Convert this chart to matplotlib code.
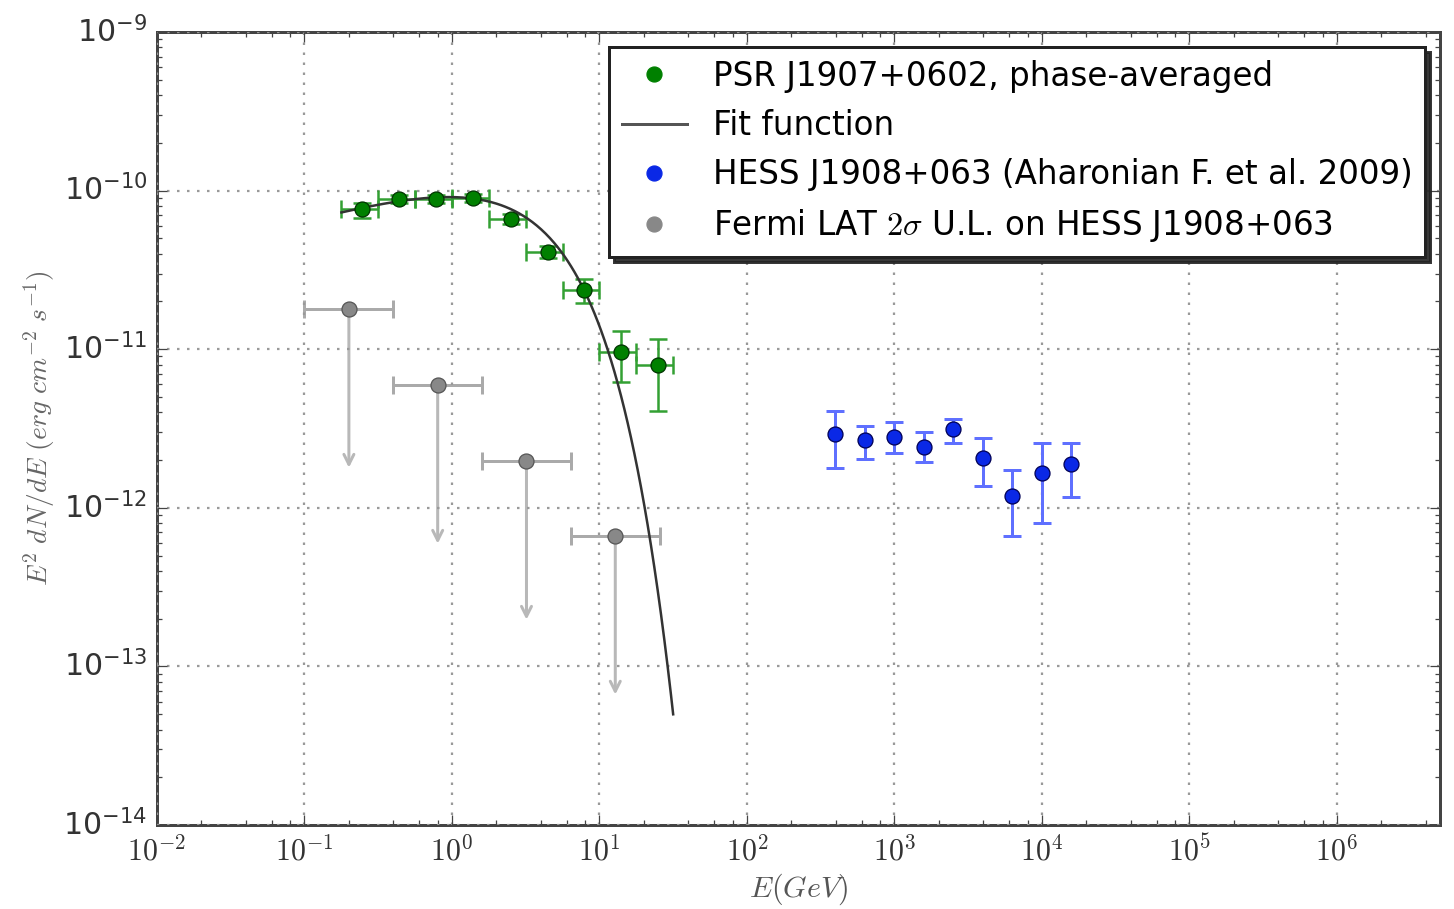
import numpy as np
import matplotlib.pyplot as plt
from matplotlib.lines import Line2D
from matplotlib.ticker import LogLocator, FuncFormatter, NullFormatter

plt.style.use('classic')
plt.rcParams['mathtext.fontset'] = 'cm'

# PSR J1907+0602 phase-averaged spectrum (GeV, erg cm^-2 s^-1)
psr_e = [0.247, 0.44, 0.775, 1.38, 2.5, 4.46, 7.83, 13.97, 24.9]
psr_e_lo = [0.178, 0.316, 0.562, 1.0, 1.78, 3.16, 5.62, 10.0, 17.8]
psr_e_hi = [0.316, 0.562, 1.0, 1.78, 3.16, 5.62, 10.0, 17.8, 31.6]
psr_flux = [7.66e-11, 8.85e-11, 8.85e-11, 8.98e-11, 6.62e-11, 4.1e-11, 2.36e-11, 9.6e-12, 7.95e-12]
psr_flux_lo = [6.72e-11, 8.35e-11, 8.35e-11, 8.47e-11, 6.15e-11, 3.76e-11, 1.95e-11, 6.2e-12, 4.07e-12]
psr_flux_hi = [8.35e-11, 9.38e-11, 9.38e-11, 9.53e-11, 7.12e-11, 4.48e-11, 2.77e-11, 1.30e-11, 1.16e-11]

# power law with exponential cutoff fitted to the pulsar points
fit_norm = 9.1e-11     # E^2 dN/dE at 1 GeV
fit_index = 1.74
fit_cutoff = 3.64      # GeV
fit_emin, fit_emax = 0.178, 31.6

# HESS J1908+063 (Aharonian et al. 2009)
hess_e = [398, 631, 1000, 1585, 2512, 3981, 6310, 10000, 15850]
hess_flux = [2.90e-12, 2.67e-12, 2.81e-12, 2.43e-12, 3.13e-12, 2.07e-12, 1.19e-12, 1.66e-12, 1.89e-12]
hess_flux_lo = [1.79e-12, 2.02e-12, 2.22e-12, 1.95e-12, 2.57e-12, 1.37e-12, 6.67e-13, 7.98e-13, 1.17e-12]
hess_flux_hi = [4.07e-12, 3.28e-12, 3.46e-12, 2.99e-12, 3.63e-12, 2.77e-12, 1.73e-12, 2.57e-12, 2.57e-12]

# Fermi LAT 2 sigma upper limits at the HESS position
ul_e = [0.2, 0.8, 3.2, 12.8]
ul_e_lo = [0.1, 0.4, 1.6, 6.4]
ul_e_hi = [0.4, 1.6, 6.4, 25.6]
ul_flux = [1.79e-11, 5.94e-12, 1.97e-12, 6.64e-13]
ul_arrow = 10.0   # arrows reach down one decade

fig = plt.figure(figsize=(1454 / 180, 909 / 180), dpi=180, facecolor='white')
ax = fig.add_axes([157 / 1454, 84 / 909, 1283 / 1454, 793 / 909])
ax.set_xscale('log')
ax.set_yscale('log')

# upper limits: horizontal bin bars plus downward arrows
ax.errorbar(ul_e, ul_flux,
            xerr=[np.subtract(ul_e, ul_e_lo), np.subtract(ul_e_hi, ul_e)],
            fmt='none', ecolor='#aaaaaa', elinewidth=1.2, capsize=3.5,
            capthick=1.2, zorder=2)
for e, f in zip(ul_e, ul_flux):
    ax.annotate('', xy=(e, f / ul_arrow), xytext=(e, f),
                arrowprops=dict(arrowstyle='->', color='#b8b8b8', lw=1.2,
                                mutation_scale=10, shrinkA=0, shrinkB=0),
                zorder=2)
ax.plot(ul_e, ul_flux, 'o', color='#888888', mec='#555555', ms=6, zorder=4)

# pulsar spectrum
ax.errorbar(psr_e, psr_flux,
            xerr=[np.subtract(psr_e, psr_e_lo), np.subtract(psr_e_hi, psr_e)],
            yerr=[np.subtract(psr_flux, psr_flux_lo), np.subtract(psr_flux_hi, psr_flux)],
            fmt='none', ecolor='#33a033', elinewidth=1.0, capsize=3.5,
            capthick=1.0, zorder=3)
ax.plot(psr_e, psr_flux, 'o', color='green', mec='#003300', ms=6, zorder=5)

fit_e = np.logspace(np.log10(fit_emin), np.log10(fit_emax), 300)
fit_flux = fit_norm * fit_e ** (2 - fit_index) * np.exp(-(fit_e - 1.0) / fit_cutoff)
ax.plot(fit_e, fit_flux, '-', color='#333333', lw=1.0, zorder=4)

# HESS spectrum
ax.errorbar(hess_e, hess_flux,
            yerr=[np.subtract(hess_flux, hess_flux_lo), np.subtract(hess_flux_hi, hess_flux)],
            fmt='none', ecolor='#5f70ff', elinewidth=1.2, capsize=3.5,
            capthick=1.2, zorder=3)
ax.plot(hess_e, hess_flux, 'o', color='#0a28e6', mec='#000055', ms=6, zorder=5)

ax.set_xlim(1e-2, 5e6)
ax.set_ylim(1e-14, 1e-9)

ax.xaxis.set_major_locator(LogLocator(base=10, numticks=20))
ax.xaxis.set_minor_locator(LogLocator(base=10, subs=(2, 4, 6, 8), numticks=20))
ax.xaxis.set_minor_formatter(NullFormatter())
ax.xaxis.set_major_formatter(FuncFormatter(lambda v, p: r'$10^{%d}$' % round(np.log10(v))))
ax.yaxis.set_major_locator(LogLocator(base=10, numticks=10))
ax.yaxis.set_minor_locator(LogLocator(base=10, subs=np.arange(2, 10), numticks=10))
ax.yaxis.set_minor_formatter(NullFormatter())

ax.tick_params(which='both', direction='in', top=True, right=True,
               colors='#444444', labelcolor='#333333', labelsize=12)
ax.tick_params(which='major', length=4)
ax.tick_params(which='minor', length=2)
for sp in ax.spines.values():
    sp.set_color('#444444')
    sp.set_linewidth(1.2)

ax.grid(True, which='major', linestyle=':', color='#999999', lw=0.9)

ax.set_xlabel(r'$E(GeV)$', fontsize=12, color='#555555', labelpad=2)
ax.set_ylabel(r'$E^2\ dN/dE\ (erg\ cm^{-2}\ s^{-1})$', fontsize=11,
              color='#666666', labelpad=2)

handles = [Line2D([], [], ls='none', marker='o', color='green', mec='green', ms=6),
           Line2D([], [], color='#555555', lw=1.2),
           Line2D([], [], ls='none', marker='o', color='#0a28e6', mec='#0a28e6', ms=6),
           Line2D([], [], ls='none', marker='o', color='#888888', mec='#888888', ms=6)]
labels = ['PSR J1907+0602, phase-averaged',
          'Fit function',
          'HESS J1908+063 (Aharonian F. et al. 2009)',
          r'Fermi LAT $2\sigma$ U.L. on HESS J1908+063']
leg = ax.legend(handles, labels, loc='upper right', numpoints=1, fontsize=13,
                shadow={'color': '#222222', 'alpha': 0.9}, fancybox=False,
                borderaxespad=0.45, handlelength=2.0, handletextpad=0.8,
                labelspacing=0.5)
leg.get_frame().set_edgecolor('#222222')
leg.get_frame().set_linewidth(1.2)

fig.savefig('out.png', dpi=180, facecolor='white')
